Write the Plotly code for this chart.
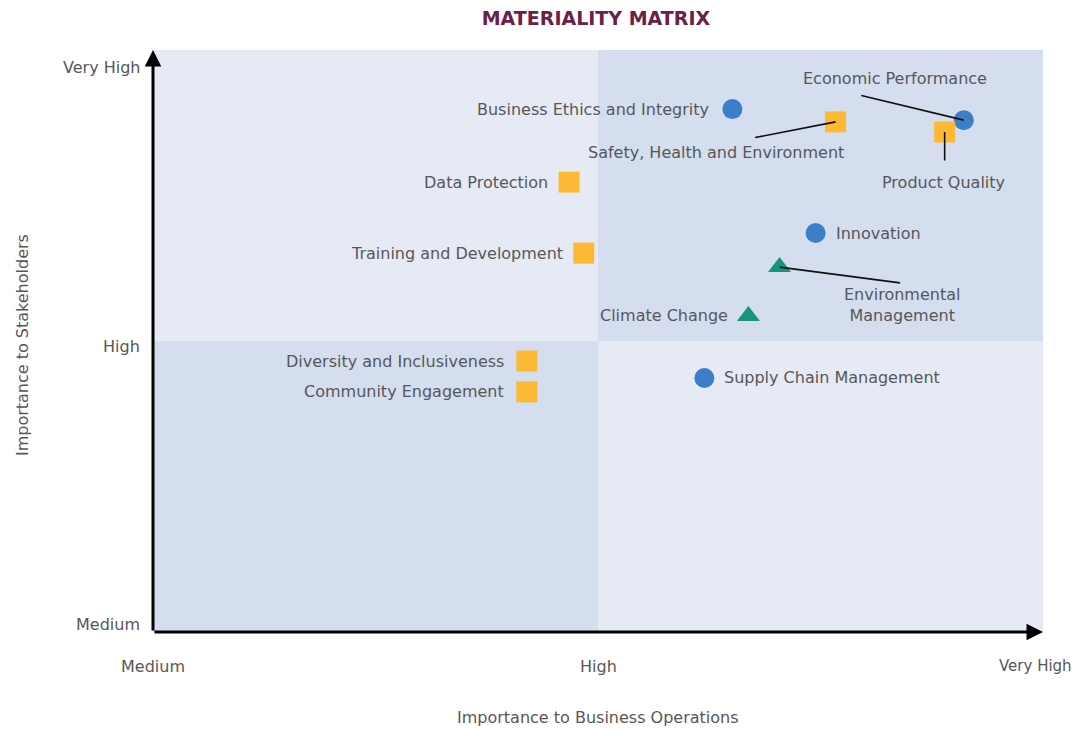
import plotly.graph_objects as go

# topics, scores on a 0-2 scale (0 = Medium, 1 = High, 2 = Very High)
topics = ["Business Ethics and Integrity", "Safety, Health and Environment", "Economic Performance",
          "Product Quality", "Data Protection", "Innovation", "Training and Development",
          "Environmental Management", "Climate Change", "Diversity and Inclusiveness",
          "Community Engagement", "Supply Chain Management"]
business_ops = [1.302, 1.534, 1.822, 1.779, 0.935, 1.489, 0.968, 1.408, 1.338, 0.840, 0.840, 1.239]
stakeholders = [1.797, 1.753, 1.759, 1.718, 1.546, 1.371, 1.302, 1.254, 1.086, 0.931, 0.825, 0.873]
groups = ["circle", "square", "circle", "square", "square", "circle", "square",
          "triangle", "triangle", "square", "square", "circle"]
level_labels = ["Medium", "High", "Very High"]
level_vals = [0, 1, 2]

colors = {"circle": "#3b7fc8", "square": "#fdb933", "triangle": "#16947c"}
symbols = {"circle": "circle", "square": "square", "triangle": "triangle-up"}
sizes = {"circle": 20, "square": 21, "triangle": 20}

# label placement: (xshift, yshift, anchor) in pixels
label_pos = {
    "Business Ethics and Integrity": (-21, 0, "right"),
    "Safety, Health and Environment": (-120, -31, "center"),
    "Economic Performance": (-69, 42, "center"),
    "Product Quality": (-1, -50, "center"),
    "Data Protection": (-19, 0, "right"),
    "Innovation": (18, 0, "left"),
    "Training and Development": (-19, 0, "right"),
    "Environmental Management": (122, -38, "center"),
    "Climate Change": (-18, 0, "right"),
    "Diversity and Inclusiveness": (-21, 0, "right"),
    "Community Engagement": (-21, 0, "right"),
    "Supply Chain Management": (18, 0, "left"),
}
# callout lines (ax, ay) pixel offsets from the point
callouts = {
    "Economic Performance": (-104, -25),
    "Safety, Health and Environment": (-82, 16),
    "Product Quality": (0, 30),
    "Environmental Management": (122, 16),
}

FONT = "DejaVu Sans, Verdana, sans-serif"
txt_font = dict(family=FONT, size=16, color="#57575a")

fig = go.Figure()

for g in ["circle", "square", "triangle"]:
    idx = [i for i, s in enumerate(groups) if s == g]
    fig.add_trace(go.Scatter(
        x=[business_ops[i] for i in idx], y=[stakeholders[i] for i in idx],
        mode="markers", hoverinfo="text", text=[topics[i] for i in idx],
        marker=dict(symbol=symbols[g], size=sizes[g], color=colors[g], line=dict(width=0)),
        showlegend=False))

# quadrant backgrounds
light, dark = "#e6eaf5", "#d4deef"
for x0, y0, c in [(0, 1, light), (1, 1, dark), (0, 0, dark), (1, 0, light)]:
    fig.add_shape(type="rect", xref="x", yref="y", x0=x0, x1=x0 + 1, y0=y0, y1=y0 + 1,
                  fillcolor=c, line=dict(width=0), layer="below")

ann = []
for i, t in enumerate(topics):
    xs, ys, anc = label_pos[t]
    label = "Environmental<br>Management" if t == "Environmental Management" else t
    ann.append(dict(x=business_ops[i], y=stakeholders[i], xref="x", yref="y", text=label,
                    showarrow=False, xanchor=anc, yanchor="middle", xshift=xs, yshift=ys,
                    font=txt_font, align="center"))
    if t in callouts:
        ax, ay = callouts[t]
        ann.append(dict(x=business_ops[i], y=stakeholders[i], xref="x", yref="y", text="",
                        showarrow=True, arrowhead=0, arrowwidth=1.6, arrowcolor="#111111",
                        ax=ax, ay=ay, standoff=0))

# axis arrows
ann.append(dict(x=2, y=0, xref="x", yref="y", ax=0, ay=0, axref="x", ayref="y", text="",
                showarrow=True, arrowhead=2, arrowsize=1.1, arrowwidth=3, arrowcolor="black"))
ann.append(dict(x=0, y=2, xref="x", yref="y", ax=0, ay=0, axref="x", ayref="y", text="",
                showarrow=True, arrowhead=2, arrowsize=1.1, arrowwidth=3, arrowcolor="black"))

# tick labels (last x label pulled in so it fits the page)
for v, lab in zip(level_vals, level_labels):
    if v == 2:
        ann.append(dict(x=v, y=0, xref="x", yref="paper", text=lab, showarrow=False,
                        xanchor="right", yanchor="middle", xshift=31, yshift=-34,
                        font=dict(family=FONT, size=15, color="#57575a")))
    else:
        ann.append(dict(x=v, y=0, xref="x", yref="paper", text=lab, showarrow=False,
                        xanchor="center", yanchor="middle", yshift=-34, font=txt_font))
for v, lab, ys in zip(level_vals, level_labels, [8, -5, -17]):
    ann.append(dict(x=0, y=v, xref="paper", yref="y", text=lab, showarrow=False,
                    xanchor="right", yanchor="middle", xshift=-11, yshift=ys, font=txt_font))

# axis titles
ann.append(dict(x=0.5, y=0, xref="paper", yref="paper", text="Importance to Business Operations",
                showarrow=False, xanchor="center", yanchor="middle", yshift=-85, font=txt_font))
ann.append(dict(x=0, y=0.493, xref="paper", yref="paper", text="Importance to Stakeholders",
                showarrow=False, xanchor="center", yanchor="middle", xshift=-131, textangle=-90,
                font=txt_font))

# page has an 8px body margin, so the figure is shrunk to fit inside it
fig.update_layout(
    width=1068, height=720,
    margin=dict(l=145, r=33, t=42, b=96),
    paper_bgcolor="white", plot_bgcolor="white",
    title=dict(text="<b>MATERIALITY MATRIX</b>", x=0.5505, xanchor="center", y=0.985, yanchor="middle",
               font=dict(family=FONT, size=19, color="#6a2048")),
    xaxis=dict(range=[0, 2], visible=False, fixedrange=True),
    yaxis=dict(range=[0, 2], visible=False, fixedrange=True),
    annotations=ann,
    showlegend=False,
)

fig.write_html("out.html")
